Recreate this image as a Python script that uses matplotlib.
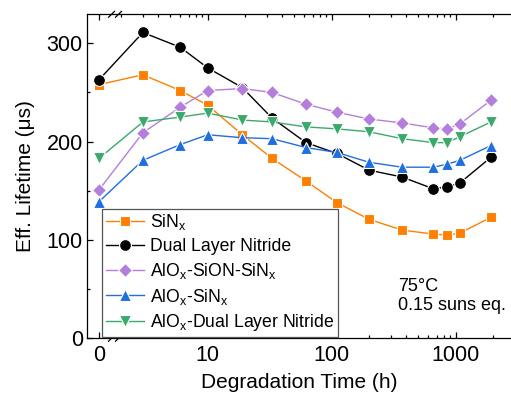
# Effective lifetime vs degradation time, broken log x-axis
import matplotlib
matplotlib.use("Agg")
import matplotlib.pyplot as plt
import matplotlib.ticker as mticker

plt.rcParams['font.family'] = ['Liberation Sans', 'DejaVu Sans']
plt.rcParams['mathtext.fontset'] = 'custom'
plt.rcParams['mathtext.rm'] = 'Liberation Sans'
plt.rcParams['mathtext.it'] = 'Liberation Sans:italic'

# degradation time (h); 0 h is shown left of the axis break
time_h = [0, 3, 6, 10, 19, 33, 62, 110, 200, 370, 660, 850, 1080, 1920]
ZERO_POS = 1.33  # where "0" sits on the log axis

sinx = [258, 268, 252, 237, 207, 183, 160, 138, 121, 110, 106, 105, 107, 123]
dual = [263, 311, 296, 275, 255, 224, 199, 188, 171, 164, 152, 154, 158, 184]
alox_sion_sinx = [151, 209, 235, 252, 254, 250, 238, 230, 223, 219, 214, 213, 218, 242]
alox_sinx = [139, 181, 197, 207, 204, 203, 194, 189, 179, 174, 174, 177, 181, 196]
alox_dual = [183, 220, 225, 229, 222, 220, 215, 213, 210, 203, 199, 199, 205, 220]

labels = [r'SiN$_\mathrm{x}$', 'Dual Layer Nitride',
          r'AlO$_\mathrm{x}$-SiON-SiN$_\mathrm{x}$',
          r'AlO$_\mathrm{x}$-SiN$_\mathrm{x}$',
          r'AlO$_\mathrm{x}$-Dual Layer Nitride']
colors = ['#FF7F00', '#000000', '#B47FDC', '#1F6FE0', '#3AAA6A']
markers = ['s', 'o', 'D', '^', 'v']
msizes = [7.5, 8.5, 7.5, 8.5, 8.5]

x = [ZERO_POS if t == 0 else t for t in time_h]

fig = plt.figure(figsize=(5.11, 3.94), dpi=100)
ax = fig.add_axes([87 / 511, 55.7 / 394, 424 / 511, 324 / 394])

for y, lab, c, m, ms in zip([sinx, dual, alox_sion_sinx, alox_sinx, alox_dual],
                            labels, colors, markers, msizes):
    ax.plot(x, y, color=c, marker=m, markersize=ms, lw=1.0, label=lab,
            markeredgecolor='white', markeredgewidth=0.8)

ax.set_xscale('log')
ax.set_xlim(1.063, 2790)
ax.set_ylim(0, 329.5)

ax.xaxis.set_major_locator(mticker.FixedLocator([ZERO_POS, 10, 100, 1000]))
ax.xaxis.set_major_formatter(mticker.FixedFormatter(['0', '10', '100', '1000']))
minors = [k * d for d in (1, 10, 100) for k in range(2, 10)] + [2000]
ax.xaxis.set_minor_locator(mticker.FixedLocator(minors))
ax.xaxis.set_minor_formatter(mticker.NullFormatter())
ax.yaxis.set_major_locator(mticker.MultipleLocator(100))
ax.yaxis.set_minor_locator(mticker.MultipleLocator(50))

ax.tick_params(which='both', direction='in', top=True, right=False,
               labelsize=15.5, width=0.9, pad=3)
ax.tick_params(axis='x', which='both', pad=5)
ax.tick_params(which='major', length=4.5)
ax.tick_params(which='minor', length=2.5)
ax.spines['right'].set_visible(False)
for s in ('left', 'top', 'bottom'):
    ax.spines[s].set_linewidth(0.9)

# axis-break marks
for xc in (0.0578, 0.0743):
    for yc in (0.0, 1.0):
        ax.plot([xc - 0.007, xc + 0.007], [yc - 0.009, yc + 0.009],
                transform=ax.transAxes, color='black', lw=0.9, clip_on=False)

ax.set_xlabel('Degradation Time (h)', fontsize=15, labelpad=5)
ax.set_ylabel('Eff. Lifetime (μs)', fontsize=15, labelpad=8)

ax.text(0.733, 0.16, '75°C', transform=ax.transAxes, fontsize=13, va='center')
ax.text(0.733, 0.0997, '0.15 suns eq.', transform=ax.transAxes, fontsize=13,
        va='center')

leg = ax.legend(loc='lower left', bbox_to_anchor=(0.0354, 0.004),
                borderaxespad=0, fontsize=12.7, fancybox=False, framealpha=1,
                edgecolor='#555555', handlelength=2.2, handletextpad=0.33,
                borderpad=0.2, labelspacing=0.33)
leg.get_frame().set_linewidth(0.9)

fig.savefig('out.png', dpi=100)
